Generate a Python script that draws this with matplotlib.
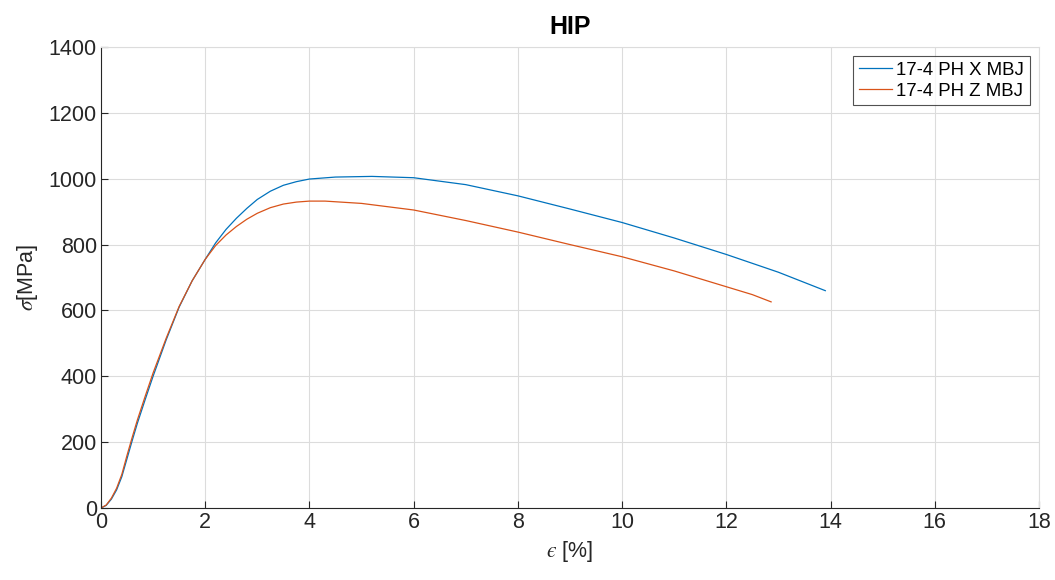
import matplotlib.pyplot as plt


# =========================
# Data
# =========================

strain_x = [0.0, 0.1, 0.2, 0.3, 0.4, 0.5, 0.6, 0.7, 0.85, 1.0, 1.25, 1.5, 1.75,
            2.0, 2.2, 2.4, 2.6, 2.8, 3.0, 3.25, 3.5, 3.75, 4.0, 4.5, 5.2,
            6.0, 7.0, 8.0, 9.0, 10.0, 11.0, 12.0, 13.0, 13.9]
stress_x = [0, 8, 27, 55, 95, 150, 205, 258, 330, 400, 510, 610, 690,
            755, 805, 846, 880, 910, 937, 962, 980, 991, 999, 1005, 1007,
            1003, 982, 948, 908, 867, 820, 770, 716, 660]

strain_z = [0.0, 0.1, 0.2, 0.3, 0.4, 0.5, 0.6, 0.7, 0.85, 1.0, 1.25, 1.5, 1.75,
            2.0, 2.2, 2.4, 2.6, 2.8, 3.0, 3.25, 3.5, 3.75, 4.0, 4.3,
            5.0, 6.0, 7.0, 8.0, 9.0, 10.0, 11.0, 12.0, 12.5, 12.86]
stress_z = [0, 9, 30, 60, 102, 160, 215, 268, 340, 410, 515, 612, 690,
            755, 797, 829, 855, 877, 895, 912, 923, 929, 932, 932,
            925, 905, 873, 838, 800, 763, 720, 672, 648, 626]

labels = ["17-4 PH X MBJ", "17-4 PH Z MBJ"]

x_ticks = list(range(0, 19, 2))
y_ticks = list(range(0, 1401, 200))


# =========================
# Chart Design
# =========================

plt.rcParams["font.family"] = ["Liberation Sans", "DejaVu Sans"]
plt.rcParams["mathtext.fontset"] = "stix"

fig = plt.figure(figsize=(10.55, 5.8), dpi=100)
fig.patch.set_facecolor("white")
ax = fig.add_axes([0.0957, 0.1241, 0.8891, 0.7949])


# =========================
# Plot
# =========================

ax.plot(strain_x, stress_x, color="#0072BD", linewidth=0.9, label=labels[0])
ax.plot(strain_z, stress_z, color="#D95319", linewidth=0.9, label=labels[1])

ax.set_xlim(0, 18)
ax.set_ylim(0, 1400)
ax.set_xticks(x_ticks)
ax.set_yticks(y_ticks)

ax.set_title("HIP", fontsize=18, fontweight="bold", pad=9)
ax.set_xlabel("$\u03f5$ [%]", fontsize=15.5, color="#262626", labelpad=4)
ax.set_ylabel(r"$\sigma$[MPa]", fontsize=15.5, color="#262626", labelpad=6)

ax.grid(True, color="#dcdcdc", linewidth=0.8)
ax.set_axisbelow(True)
ax.tick_params(direction="in", length=5, width=0.8, colors="#262626",
               labelsize=15.5, pad=3)

for side in ["left", "bottom"]:
    ax.spines[side].set_color("#262626")
    ax.spines[side].set_linewidth(0.8)
for side in ["top", "right"]:
    ax.spines[side].set_color("#dcdcdc")
    ax.spines[side].set_linewidth(0.8)

leg = ax.legend(
    loc="upper right",
    fontsize=13.4,
    frameon=True,
    fancybox=False,
    edgecolor="#262626",
    handlelength=1.8,
    handletextpad=0.2,
    borderpad=0.3,
    labelspacing=0.2,
    borderaxespad=0.5
)
leg.get_frame().set_linewidth(0.8)


# =========================
# Save
# =========================

plt.savefig("out.png", dpi=100)
